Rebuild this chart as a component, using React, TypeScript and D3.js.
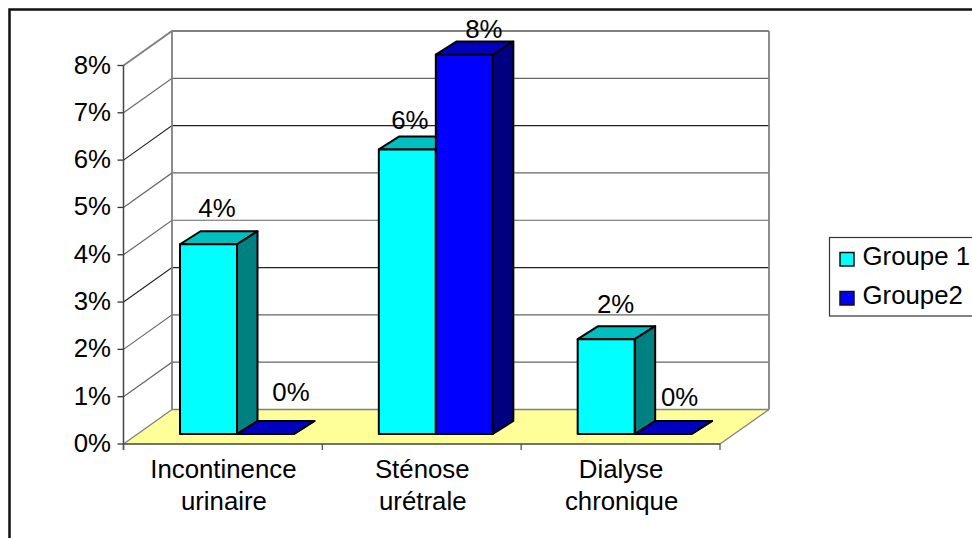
import React from "react";
import * as d3 from "d3";

const categories = [["Incontinence", "urinaire"], ["Sténose", "urétrale"], ["Dialyse", "chronique"]];
const groupe1 = [4, 6, 2];
const groupe2 = [0, 8, 0];
const seriesNames = ["Groupe 1", "Groupe2"];
const ticks = [0, 1, 2, 3, 4, 5, 6, 7, 8];
const FONT = "'Liberation Sans', Arial, sans-serif";

const W = 972, H = 538;
const FS = 25.8;
const x0 = 123.5, x1 = 720, yBase = 444, yTop = 65.5;
const dx = 48.5, dy = -34.5;
const y = d3.scaleLinear().domain([0, 8]).range([yBase, yTop]);
const xCat = d3.scaleBand().domain(["0", "1", "2"]).range([x0, x1]);
const barW = 57;
const barOffX = 56.5, barDx = 20.5, barDy = -13, barBase = 434;
const barScale = d3.scaleLinear().domain([0, 8]).range([barBase, 54.5]);
const label1Dx = [37, 31, 38];
const label1Dy = [27.5, 20, 26.5];
const label2Dx = [54, 48, 45];
const label2Dy = [33, 17, 28];

const pts = (p: number[][]) => p.map((q) => q.join(",")).join(" ");
const pct = (v: number) => d3.format(".0%")(v / 100);

function Bar({ x, v, front, top, side }: { x: number; v: number; front: string; top: string; side: string }) {
  const yy = barScale(v);
  const h = barBase - yy;
  return (
    <g stroke="#000" strokeWidth={2} strokeLinejoin="round">
      <polygon points={pts([[x, yy], [x + barDx, yy + barDy], [x + barW + barDx, yy + barDy], [x + barW, yy]])} fill={top} />
      <polygon points={pts([[x + barW, yy], [x + barW + barDx, yy + barDy], [x + barW + barDx, barBase + barDy], [x + barW, barBase]])} fill={side} />
      {h > 0 && <rect x={x} y={yy} width={barW} height={h} fill={front} />}
    </g>
  );
}

export default function App() {
  return (
    <svg width={W} height={H} viewBox={`0 0 ${W} ${H}`} style={{ position: "absolute", left: 0, top: 0, background: "#fff" }} fontFamily={FONT} fill="#000">
      <path d={`M9.5 ${H}V9.5H${W}`} fill="none" stroke="#111" strokeWidth={2.5} />
      <polygon points={pts([[x0, yBase], [x0 + dx, yBase + dy], [x1 + dx + 0.5, yBase + dy], [x1, yBase]])} fill="#FFFF99" />
      {ticks.map((t) => (
        <g key={t}>
          {t > 0 && <polyline points={pts([[x0, y(t)], [x0 + dx, y(t) + dy], [x1 + dx + 0.5, y(t) + dy]])} fill="none" stroke={t === 8 ? "#808080" : t === 6 || t === 3 ? "#222" : "#666"} strokeWidth={t === 8 ? 1.8 : 1.15} />}
          <line x1={x0 - 6} x2={x0} y1={y(t)} y2={y(t)} stroke="#333" strokeWidth={1.3} />
          <text x={111} y={y(t) + 8} fontSize={FS} textAnchor="end">{pct(t)}</text>
        </g>
      ))}
      <line x1={x0 + dx} x2={x0 + dx} y1={yTop + dy} y2={yBase + dy} stroke="#808080" strokeWidth={1.8} />
      <line x1={x1 + dx + 0.5} x2={x1 + dx + 0.5} y1={yTop + dy} y2={yBase + dy} stroke="#808080" strokeWidth={1.8} />
      <line x1={x0} x2={x0 + dx} y1={yBase} y2={yBase + dy} stroke="#808080" strokeWidth={1.3} />
      <line x1={x1} x2={x1 + dx + 0.5} y1={yBase} y2={yBase + dy} stroke="#808080" strokeWidth={1.3} />
      <line x1={x0 + dx} x2={x1 + dx + 0.5} y1={yBase + dy} y2={yBase + dy} stroke="#808080" strokeWidth={1.5} />
      <line x1={x0} x2={x0} y1={yTop} y2={yBase + 6} stroke="#444" strokeWidth={1.5} />
      <line x1={x0} x2={x1} y1={yBase} y2={yBase} stroke="#444" strokeWidth={1.5} />
      {[0, 1, 2, 3].map((i) => (
        <line key={i} x1={x0 + i * xCat.bandwidth()} x2={x0 + i * xCat.bandwidth()} y1={yBase} y2={yBase + 6} stroke="#555" strokeWidth={1.3} />
      ))}
      {categories.map((c, i) => {
        const cx = xCat(String(i)) as number;
        const bx = cx + barOffX;
        return (
          <g key={i}>
            <Bar x={bx} v={groupe1[i]} front="#00FFFF" top="#00BFBF" side="#008080" />
            <Bar x={bx + barW} v={groupe2[i]} front="#0000FF" top="#0000BF" side="#000080" />
            <text x={bx + label1Dx[i]} y={barScale(groupe1[i]) - label1Dy[i]} fontSize={FS} textAnchor="middle">{pct(groupe1[i])}</text>
            <text x={bx + barW + label2Dx[i]} y={barScale(groupe2[i]) - label2Dy[i]} fontSize={FS} textAnchor="middle">{pct(groupe2[i])}</text>
            <text x={cx + xCat.bandwidth() / 2 + 0.5} y={478} fontSize={FS} textAnchor="middle">{c[0]}</text>
            <text x={cx + xCat.bandwidth() / 2 + 1} y={510} fontSize={FS} textAnchor="middle">{c[1]}</text>
          </g>
        );
      })}
      <rect x={829.5} y={237.5} width={150} height={78.5} fill="#fff" stroke="#333" strokeWidth={1.2} />
      {seriesNames.map((s, i) => (
        <g key={s}>
          <rect x={840} y={252.5 + i * 39} width={14} height={13.5} fill={i === 0 ? "#00FFFF" : "#0000FF"} stroke="#111" strokeWidth={1.5} />
          <text x={862.5} y={264.5 + i * 39} fontSize={FS}>{s}</text>
        </g>
      ))}
    </svg>
  );
}
